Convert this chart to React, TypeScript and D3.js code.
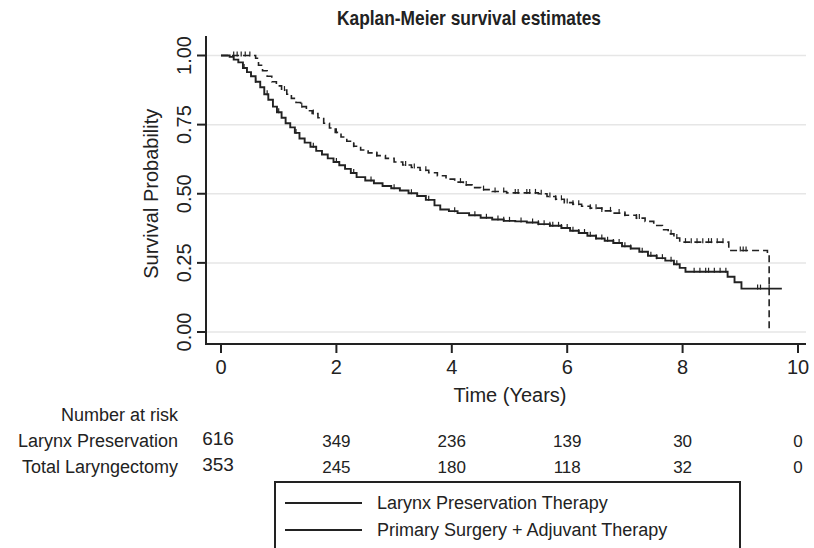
import React from "react";
import * as d3 from "d3";

// KM step points: [time in years, survival after the step]
const preservationTimes = [0, 0.15, 0.22, 0.3, 0.38, 0.45, 0.52, 0.6, 0.68, 0.75, 0.82, 0.9, 0.97, 1.05, 1.12, 1.2, 1.28, 1.36, 1.45, 1.55, 1.65, 1.75, 1.85, 1.95, 2.05, 2.15, 2.25, 2.35, 2.5, 2.65, 2.8, 2.95, 3.1, 3.25, 3.4, 3.55, 3.7, 3.8, 3.95, 4.1, 4.3, 4.5, 4.7, 4.9, 5.1, 5.3, 5.5, 5.7, 5.9, 6.05, 6.2, 6.35, 6.5, 6.65, 6.8, 6.95, 7.1, 7.25, 7.4, 7.55, 7.7, 7.85, 7.95, 8.05, 8.78, 8.9, 9.02, 9.72];
const preservationSurv = [1, 0.995, 0.985, 0.975, 0.955, 0.94, 0.925, 0.905, 0.885, 0.86, 0.84, 0.815, 0.795, 0.775, 0.755, 0.74, 0.72, 0.7, 0.685, 0.67, 0.655, 0.642, 0.628, 0.615, 0.603, 0.59, 0.575, 0.56, 0.548, 0.538, 0.528, 0.52, 0.512, 0.502, 0.492, 0.478, 0.458, 0.443, 0.437, 0.43, 0.422, 0.413, 0.407, 0.402, 0.4, 0.396, 0.39, 0.384, 0.376, 0.366, 0.358, 0.348, 0.338, 0.33, 0.322, 0.31, 0.302, 0.29, 0.276, 0.267, 0.258, 0.245, 0.232, 0.218, 0.2, 0.18, 0.157, 0.157];
const preservationCensored = [0.4, 0.6, 0.8, 1.0, 1.3, 1.6, 2.0, 2.3, 2.6, 3.0, 3.3, 3.6, 4.05, 4.4, 4.6, 4.8, 4.9, 5.0, 5.2, 5.4, 5.5, 5.6, 5.7, 5.75, 5.85, 5.9, 6.0, 6.1, 6.2, 6.3, 6.4, 6.5, 6.6, 6.7, 6.8, 6.9, 7.0, 7.1, 7.3, 7.45, 7.55, 7.65, 7.8, 7.9, 8.2, 8.3, 8.4, 8.45, 8.55, 8.65, 8.75, 9.3, 9.35, 9.5];

const surgeryTimes = [0, 0.6, 0.65, 0.72, 0.8, 0.88, 0.96, 1.05, 1.14, 1.22, 1.3, 1.38, 1.48, 1.58, 1.68, 1.78, 1.88, 1.98, 2.08, 2.18, 2.3, 2.42, 2.55, 2.7, 2.85, 3.0, 3.15, 3.3, 3.45, 3.6, 3.75, 3.9, 4.05, 4.2, 4.35, 4.5, 4.7, 4.95, 5.5, 5.65, 5.8, 5.95, 6.1, 6.25, 6.4, 6.6, 6.8, 7.0, 7.2, 7.35, 7.5, 7.65, 7.75, 7.85, 7.95, 8.8, 9.47, 9.5];
const surgerySurv = [1, 0.99, 0.965, 0.945, 0.925, 0.905, 0.89, 0.875, 0.86, 0.845, 0.83, 0.815, 0.8, 0.79, 0.775, 0.755, 0.738, 0.722, 0.705, 0.69, 0.672, 0.658, 0.648, 0.638, 0.628, 0.615, 0.604, 0.595, 0.585, 0.576, 0.565, 0.553, 0.542, 0.532, 0.522, 0.515, 0.508, 0.503, 0.5, 0.49, 0.48, 0.468, 0.462, 0.455, 0.448, 0.438, 0.43, 0.422, 0.412, 0.4, 0.385, 0.37, 0.355, 0.34, 0.325, 0.295, 0.28, 0];
const surgeryCensored = [0.22, 0.28, 0.35, 0.42, 0.5, 1.1, 1.4, 1.6, 2.0, 2.3, 2.7, 3.2, 3.35, 3.55, 4.15, 4.25, 4.55, 4.75, 4.9, 5.1, 5.15, 5.3, 5.35, 5.45, 5.55, 5.7, 5.8, 5.9, 6.0, 6.1, 6.2, 6.4, 6.5, 6.6, 6.75, 6.9, 7.0, 7.2, 7.25, 7.8, 7.9, 8.05, 8.15, 8.25, 8.35, 8.45, 8.5, 8.6, 8.7, 9.0, 9.05, 9.1];

const riskTimes = [0, 2, 4, 6, 8, 10];
const riskPreservation = [616, 349, 236, 139, 30, 0];
const riskLaryngectomy = [353, 245, 180, 118, 32, 0];
const riskLabels = ["Larynx Preservation", "Total Laryngectomy"];
const legendLabels = ["Larynx Preservation Therapy", "Primary Surgery + Adjuvant Therapy"];
const yTicks = [0, 0.25, 0.5, 0.75, 1];

const FONT = "'Liberation Sans', Arial, Helvetica, sans-serif";
const INK = "#222";

export default function App() {
  const width = 814, height = 548;
  const x = d3.scaleLinear().domain([0, 10]).range([221, 798]);
  const y = d3.scaleLinear().domain([0, 1]).range([332, 55.5]);
  const axisX0 = 206, axisX1 = 806, axisY = 344;

  const line = d3
    .line<[number, number]>()
    .x((d) => x(d[0]))
    .y((d) => y(d[1]))
    .curve(d3.curveStepAfter);

  const pres = preservationTimes.map((t, i) => [t, preservationSurv[i]] as [number, number]);
  const surg = surgeryTimes.map((t, i) => [t, surgerySurv[i]] as [number, number]);

  const survAt = (times: number[], surv: number[], t: number) => {
    const i = d3.bisectRight(times, t) - 1;
    return surv[Math.max(0, i)];
  };

  const censorMarks = (times: number[], surv: number[], cens: number[]) =>
    cens.map((t, i) => {
      const yy = y(survAt(times, surv, t));
      return <line key={i} x1={x(t)} x2={x(t)} y1={yy - 4} y2={yy + 1} stroke={INK} strokeWidth={1.2} />;
    });

  const fmt = d3.format(".2f");

  return (
    <div style={{ position: "fixed", left: 0, top: 0 }}>
      <svg width={width} height={height} style={{ display: "block", background: "#fff" }} fontFamily={FONT}>
        <text x={337} y={25} fontSize={20.5} fontWeight="bold" fill={INK} textLength={264} lengthAdjust="spacingAndGlyphs">
          Kaplan-Meier survival estimates
        </text>

        {/* grid */}
        {yTicks.map((t) => (
          <line key={t} x1={axisX0} x2={axisX1} y1={y(t)} y2={y(t)} stroke="#e6e6e6" strokeWidth={1.5} />
        ))}

        {/* curves */}
        <path d={line(pres) || ""} fill="none" stroke={INK} strokeWidth={1.9} />
        <path d={line(surg) || ""} fill="none" stroke={INK} strokeWidth={1.6} strokeDasharray="7,4" />
        {censorMarks(preservationTimes, preservationSurv, preservationCensored)}
        {censorMarks(surgeryTimes, surgerySurv, surgeryCensored)}

        {/* axes */}
        <line x1={axisX0} x2={axisX0} y1={36} y2={axisY + 1} stroke={INK} strokeWidth={2} />
        <line x1={axisX0 - 1} x2={axisX1} y1={axisY} y2={axisY} stroke={INK} strokeWidth={2} />
        {yTicks.map((t) => (
          <g key={t}>
            <line x1={197} x2={axisX0} y1={y(t)} y2={y(t)} stroke={INK} strokeWidth={2} />
            <text
              transform={`translate(191,${y(t)}) rotate(-90)`}
              textAnchor="middle"
              fontSize={20}
              fill={INK}
            >
              {fmt(t)}
            </text>
          </g>
        ))}
        <text transform={`translate(158,${(y(0) + y(1)) / 2}) rotate(-90)`} textAnchor="middle" fontSize={20} fill={INK}>
          Survival Probability
        </text>
        {x.ticks(5).map((t) => (
          <g key={t}>
            <line x1={x(t)} x2={x(t)} y1={axisY} y2={axisY + 9} stroke={INK} strokeWidth={2} />
            <text x={x(t)} y={374} textAnchor="middle" fontSize={20} fill={INK}>
              {t}
            </text>
          </g>
        ))}
        <text x={510} y={402} textAnchor="middle" fontSize={20} fill={INK}>
          Time (Years)
        </text>

        {/* number at risk */}
        <text x={178} y={421} textAnchor="end" fontSize={18} fill={INK}>
          Number at risk
        </text>
        {[riskPreservation, riskLaryngectomy].map((row, r) => (
          <g key={r}>
            <text x={178} y={447 + r * 26} textAnchor="end" fontSize={18} fill={INK}>
              {riskLabels[r]}
            </text>
            {row.map((n, i) => (
              <text
                key={i}
                x={x(riskTimes[i]) - (i === 0 ? 3 : 0)}
                y={(i === 0 ? 445 : 447) + r * 26}
                textAnchor="middle"
                fontSize={i === 0 ? 19 : 17}
                fill={INK}
              >
                {n}
              </text>
            ))}
          </g>
        ))}

        {/* legend */}
        <rect x={275} y={482} width={465} height={90} fill="none" stroke={INK} strokeWidth={2} />
        {legendLabels.map((lab, i) => (
          <g key={lab}>
            <line x1={285} x2={362} y1={503 + i * 27} y2={503 + i * 27} stroke={INK} strokeWidth={2.2} />
            <text x={377} y={509 + i * 27} fontSize={18} fill={INK}>
              {lab}
            </text>
          </g>
        ))}
      </svg>
    </div>
  );
}
